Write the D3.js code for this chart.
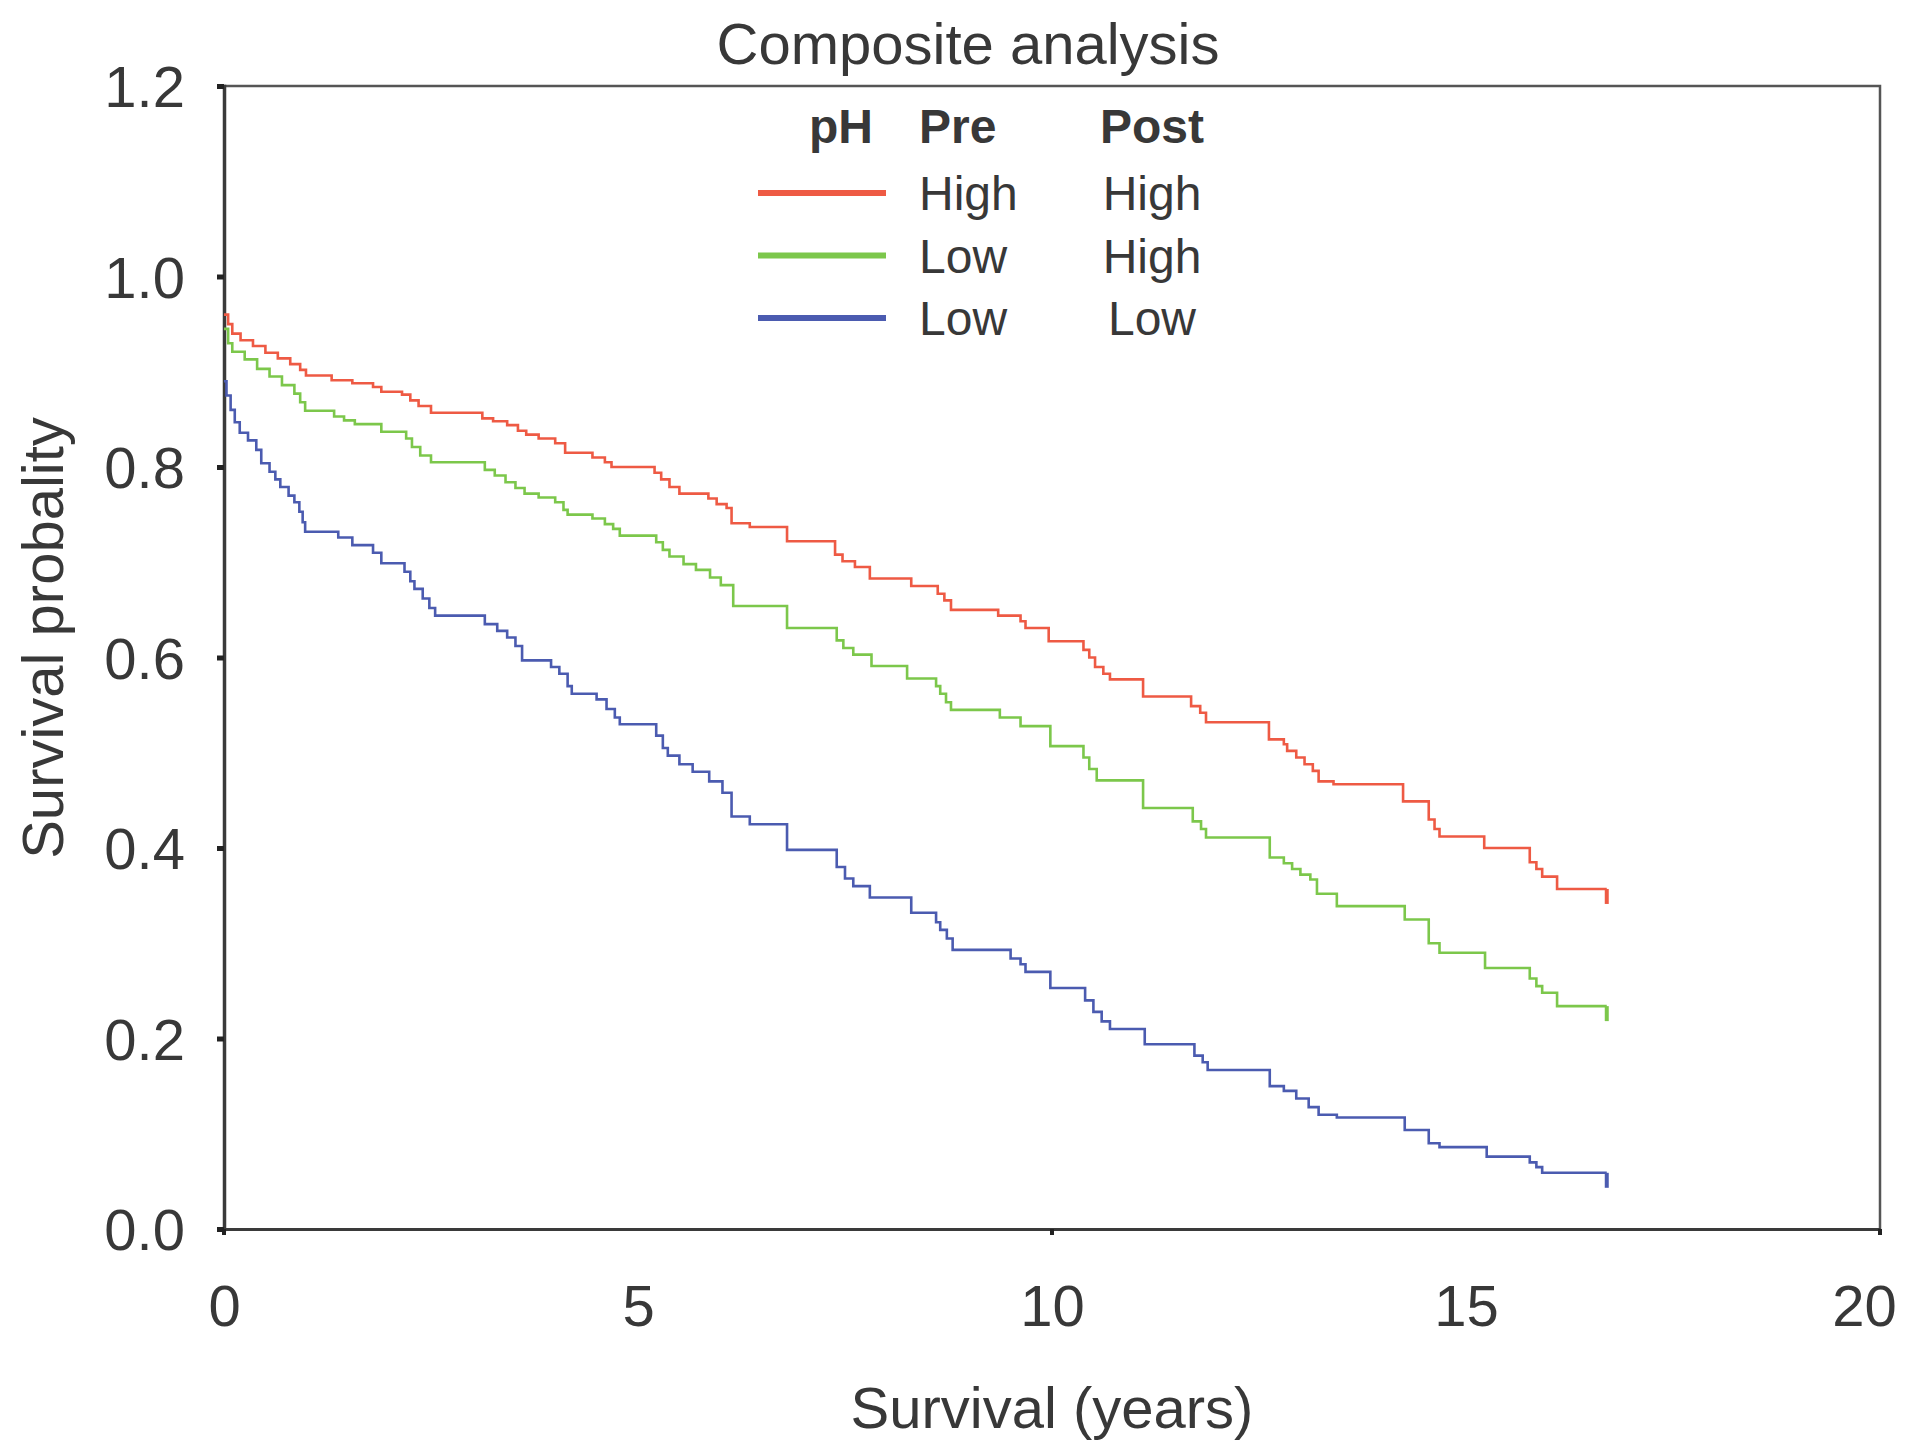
<!DOCTYPE html>
<html>
<head>
<meta charset="utf-8">
<script src="https://cdn.jsdelivr.net/npm/d3@7"></script>
<style>
  html, body { margin: 0; padding: 0; background: #ffffff; }
  svg { display: block; font-family: "Liberation Sans", Arial, Helvetica, sans-serif; }
</style>
</head>
<body>
<svg id="chart" width="1905" height="1447"></svg>
<script>
// Kaplan-Meier estimates: [years, survival probability] after each event
const highHigh = [
  [0, 0.960], [0.05, 0.950], [0.10, 0.940], [0.20, 0.933], [0.35, 0.927], [0.50, 0.920],
  [0.65, 0.914], [0.80, 0.908], [0.92, 0.902], [0.99, 0.896], [1.30, 0.891], [1.55, 0.888],
  [1.80, 0.884], [1.90, 0.879], [2.15, 0.876], [2.25, 0.870], [2.35, 0.864], [2.50, 0.857],
  [3.12, 0.851], [3.25, 0.848], [3.42, 0.844], [3.55, 0.838], [3.65, 0.834], [3.80, 0.830],
  [4.00, 0.825], [4.12, 0.815], [4.45, 0.810], [4.60, 0.805], [4.68, 0.800], [5.20, 0.794],
  [5.28, 0.787], [5.38, 0.779], [5.50, 0.772], [5.85, 0.767], [5.95, 0.761], [6.07, 0.757],
  [6.13, 0.741], [6.35, 0.737], [6.80, 0.722], [7.38, 0.708], [7.47, 0.701], [7.62, 0.695],
  [7.80, 0.683], [8.30, 0.675], [8.62, 0.667], [8.70, 0.660], [8.78, 0.650], [9.35, 0.644],
  [9.62, 0.638], [9.68, 0.631], [9.96, 0.617], [10.38, 0.608], [10.45, 0.600], [10.52, 0.590],
  [10.62, 0.583], [10.70, 0.577], [11.10, 0.559], [11.68, 0.549], [11.79, 0.542], [11.86, 0.532],
  [12.62, 0.514], [12.80, 0.509], [12.84, 0.502], [12.95, 0.495], [13.05, 0.488], [13.15, 0.481],
  [13.22, 0.470], [13.40, 0.467], [14.24, 0.449], [14.55, 0.430], [14.62, 0.420], [14.68, 0.412],
  [15.22, 0.400], [15.77, 0.385], [15.85, 0.378], [15.92, 0.370], [16.10, 0.357], [16.70, 0.357]
];

const lowHigh = [
  [0, 0.945], [0.05, 0.930], [0.10, 0.921], [0.25, 0.913], [0.40, 0.903], [0.55, 0.895],
  [0.70, 0.886], [0.85, 0.877], [0.92, 0.868], [0.98, 0.859], [1.33, 0.853], [1.45, 0.849],
  [1.58, 0.845], [1.90, 0.837], [2.20, 0.830], [2.27, 0.821], [2.37, 0.812], [2.50, 0.805],
  [3.15, 0.797], [3.27, 0.791], [3.40, 0.784], [3.52, 0.778], [3.63, 0.772], [3.80, 0.768],
  [4.00, 0.763], [4.10, 0.755], [4.15, 0.750], [4.45, 0.746], [4.60, 0.740], [4.70, 0.735],
  [4.78, 0.728], [5.22, 0.721], [5.30, 0.713], [5.38, 0.706], [5.55, 0.698], [5.70, 0.692],
  [5.87, 0.684], [6.00, 0.676], [6.15, 0.654], [6.80, 0.631], [7.40, 0.618], [7.48, 0.610],
  [7.60, 0.603], [7.82, 0.591], [8.25, 0.578], [8.60, 0.570], [8.65, 0.562], [8.72, 0.553],
  [8.78, 0.545], [9.37, 0.537], [9.62, 0.528], [9.98, 0.507], [10.38, 0.495], [10.45, 0.483],
  [10.54, 0.471], [11.10, 0.442], [11.70, 0.428], [11.80, 0.420], [11.86, 0.411], [12.63, 0.390],
  [12.80, 0.384], [12.90, 0.378], [13.00, 0.372], [13.12, 0.367], [13.20, 0.352], [13.44, 0.339],
  [14.26, 0.325], [14.55, 0.300], [14.68, 0.290], [15.23, 0.274], [15.77, 0.263], [15.85, 0.255],
  [15.92, 0.248], [16.10, 0.234], [16.70, 0.234]
];

const lowLow = [
  [0, 0.890], [0.03, 0.875], [0.08, 0.860], [0.13, 0.847], [0.19, 0.836], [0.29, 0.828],
  [0.39, 0.818], [0.45, 0.804], [0.55, 0.795], [0.62, 0.787], [0.68, 0.779], [0.78, 0.770],
  [0.85, 0.763], [0.91, 0.753], [0.95, 0.742], [0.98, 0.732], [1.38, 0.726], [1.55, 0.718],
  [1.80, 0.710], [1.90, 0.699], [2.18, 0.690], [2.25, 0.680], [2.30, 0.672], [2.40, 0.662],
  [2.48, 0.652], [2.55, 0.644], [3.15, 0.635], [3.30, 0.628], [3.42, 0.621], [3.52, 0.612],
  [3.60, 0.597], [3.95, 0.590], [4.05, 0.583], [4.15, 0.570], [4.20, 0.562], [4.50, 0.556],
  [4.62, 0.546], [4.72, 0.537], [4.78, 0.530], [5.22, 0.518], [5.30, 0.505], [5.36, 0.497],
  [5.50, 0.488], [5.66, 0.480], [5.86, 0.470], [6.02, 0.458], [6.13, 0.433], [6.35, 0.425],
  [6.80, 0.398], [7.40, 0.380], [7.50, 0.368], [7.60, 0.360], [7.80, 0.348], [8.30, 0.332],
  [8.60, 0.322], [8.65, 0.314], [8.73, 0.305], [8.80, 0.293], [9.50, 0.284], [9.62, 0.278],
  [9.68, 0.270], [9.98, 0.253], [10.40, 0.240], [10.50, 0.228], [10.60, 0.218], [10.70, 0.210],
  [11.12, 0.194], [11.72, 0.182], [11.82, 0.175], [11.88, 0.167], [12.63, 0.150], [12.80, 0.145],
  [12.95, 0.137], [13.10, 0.128], [13.22, 0.120], [13.44, 0.117], [14.26, 0.104], [14.55, 0.090],
  [14.68, 0.086], [15.25, 0.076], [15.77, 0.070], [15.85, 0.065], [15.92, 0.059], [16.70, 0.059]
];

const seriesNames = ["highHigh", "lowHigh", "lowLow"];
const seriesColors = ["#ee5a44", "#7cc74b", "#4b5bb0"];
const legendPre = ["High", "Low", "Low"];
const legendPost = ["High", "High", "Low"];

const xTicks = [0, 5, 10, 15, 20];
const xMarkedTicks = [0, 10, 20];
const yTicks = [0, 0.2, 0.4, 0.6, 0.8, 1.0, 1.2];

const titleText = "Composite analysis";
const xTitle = "Survival (years)";
const yTitle = "Survival probality";

// ---- layout ----
const W = 1905, H = 1447;
const plotLeft = 224, plotRight = 1880, plotTop = 86, plotBottom = 1229;
const textColor = "#383838";
const axisColor = "#3a3a3a";

const svg = d3.select("#chart");
svg.append("rect").attr("width", W).attr("height", H).attr("fill", "#ffffff");

const x = d3.scaleLinear().domain([0, 20]).range([plotLeft, plotRight]);
const y = d3.scaleLinear().domain([0, 1.2]).range([plotBottom, plotTop]);

// plot frame (top and right edges)
svg.append("path")
  .attr("d", `M${plotLeft},${plotTop}H${plotRight}V${plotBottom}`)
  .attr("fill", "none")
  .attr("stroke", "#555")
  .attr("stroke-width", 2.5);

// y axis
const yAxis = svg.append("g")
  .attr("transform", `translate(${plotLeft},0)`)
  .call(d3.axisLeft(y).tickValues(yTicks).tickFormat(d3.format(".1f")).tickSize(7).tickPadding(32));
yAxis.select(".domain").attr("stroke", axisColor).attr("stroke-width", 3.5);
yAxis.selectAll(".tick line").attr("stroke", "#222").attr("stroke-width", 5);
yAxis.selectAll(".tick text")
  .attr("fill", textColor)
  .attr("font-size", 58)
  .attr("dy", "0.36em");

// x axis
const xAxis = svg.append("g")
  .attr("transform", `translate(0,${plotBottom})`)
  .call(d3.axisBottom(x).tickValues(xTicks).tickFormat(d3.format("d")).tickSize(0).tickPadding(56));
xAxis.select(".domain").attr("stroke", axisColor).attr("stroke-width", 3);
xAxis.selectAll(".tick text")
  .attr("fill", textColor)
  .attr("font-size", 58);
// keep the last label inside the canvas: right-align it just past its tick
xAxis.selectAll(".tick text")
  .filter(d => d === xTicks[xTicks.length - 1])
  .attr("text-anchor", "end")
  .attr("dx", "0.28em");

// small tick marks under the x axis
svg.append("g").selectAll("line")
  .data(xMarkedTicks)
  .join("line")
  .attr("x1", d => x(d)).attr("x2", d => x(d))
  .attr("y1", plotBottom).attr("y2", plotBottom + 6)
  .attr("stroke", "#222").attr("stroke-width", 4);

// survival step curves
const allSeries = [highHigh, lowHigh, lowLow];
const line = d3.line()
  .x(d => x(d[0]))
  .y(d => y(d[1]))
  .curve(d3.curveStepAfter);

const curves = svg.append("g").attr("fill", "none");
curves.selectAll("path")
  .data(allSeries)
  .join("path")
  .attr("class", (d, i) => seriesNames[i])
  .attr("d", line)
  .attr("stroke", (d, i) => seriesColors[i])
  .attr("stroke-width", 2.6)
  .attr("stroke-linejoin", "miter");

// censoring tick at the last follow-up time
curves.selectAll("line")
  .data(allSeries)
  .join("line")
  .attr("x1", d => x(d[d.length - 1][0]))
  .attr("x2", d => x(d[d.length - 1][0]))
  .attr("y1", d => y(d[d.length - 1][1]))
  .attr("y2", d => y(d[d.length - 1][1]) + 15)
  .attr("stroke", (d, i) => seriesColors[i])
  .attr("stroke-width", 4);

// title
svg.append("text")
  .attr("x", 968).attr("y", 64)
  .attr("text-anchor", "middle")
  .attr("font-size", 58)
  .attr("fill", textColor)
  .text(titleText);

// axis titles
svg.append("text")
  .attr("x", (plotLeft + plotRight) / 2).attr("y", 1428)
  .attr("text-anchor", "middle")
  .attr("font-size", 58)
  .attr("fill", textColor)
  .text(xTitle);

svg.append("text")
  .attr("transform", `translate(63,638) rotate(-90)`)
  .attr("text-anchor", "middle")
  .attr("font-size", 58)
  .attr("fill", textColor)
  .text(yTitle);

// legend
const legend = svg.append("g").attr("fill", textColor).attr("font-size", 48);
const preX = 919, postX = 1152, swatchX0 = 758, swatchX1 = 886;
const headerY = 143, rowY0 = 210, rowStep = 62.5;

legend.append("text").attr("x", 809).attr("y", headerY).attr("font-weight", "bold").text("pH");
legend.append("text").attr("x", preX).attr("y", headerY).attr("font-weight", "bold").text("Pre");
legend.append("text").attr("x", postX).attr("y", headerY).attr("text-anchor", "middle")
  .attr("font-weight", "bold").text("Post");

const rows = legend.selectAll("g.row")
  .data(seriesNames)
  .join("g")
  .attr("class", "row")
  .attr("transform", (d, i) => `translate(0,${rowY0 + i * rowStep})`);

rows.append("line")
  .attr("x1", swatchX0).attr("x2", swatchX1)
  .attr("y1", -17).attr("y2", -17)
  .attr("stroke", (d, i) => seriesColors[i])
  .attr("stroke-width", 6);

rows.append("text")
  .attr("x", preX)
  .text((d, i) => legendPre[i]);

rows.append("text")
  .attr("x", postX)
  .attr("text-anchor", "middle")
  .text((d, i) => legendPost[i]);
</script>
</body>
</html>
